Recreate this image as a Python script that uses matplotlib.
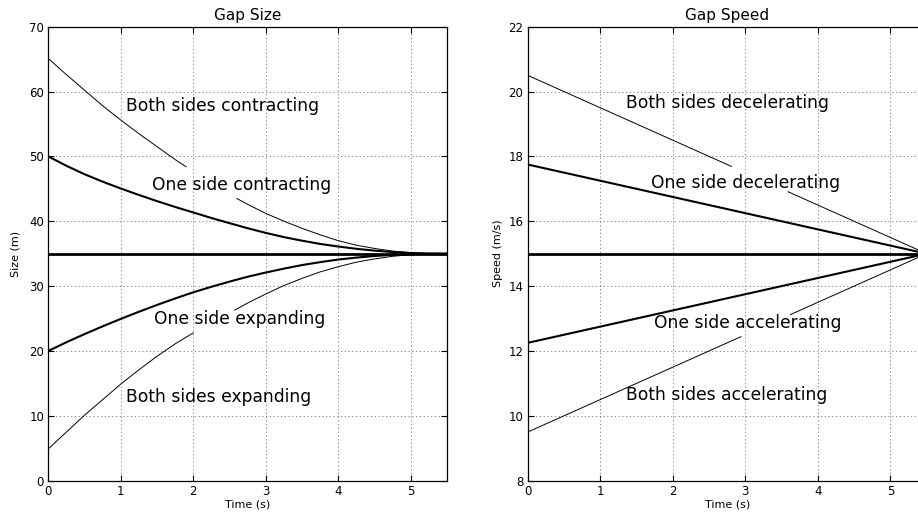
import numpy as np
import matplotlib
matplotlib.use('Agg')  # sin pantalla
import matplotlib.pyplot as plt

# --- Gap size (m) ---
size_time = [0, 0.25, 0.5, 0.75, 1, 1.25, 1.5, 1.75, 2, 2.25, 2.5, 2.75,
             3, 3.25, 3.5, 3.75, 4, 4.25, 4.5, 4.75, 5, 5.25, 5.5]
one_side_contracting = [50.0, 48.55, 47.25, 46.1, 45.05, 44.05, 43.1, 42.2, 41.35, 40.5, 39.7, 38.92,
                        38.2, 37.55, 37.0, 36.5, 36.1, 35.75, 35.47, 35.25, 35.1, 35.02, 35.0]
one_side_expanding = [20.0, 21.35, 22.6, 23.8, 24.95, 26.05, 27.1, 28.1, 29.05, 29.9, 30.7, 31.45,
                      32.1, 32.7, 33.25, 33.7, 34.1, 34.4, 34.65, 34.82, 34.93, 34.98, 35.0]

# thin curves have a break where the label sits (nan = hidden part)
both_contracting_time = [0, 0.25, 0.5, 0.75, 1, 1.25, 1.5, 1.75, 1.9, np.nan,
                         2.6, 2.75, 3, 3.25, 3.5, 3.75, 4, 4.25, 4.5, 4.75, 5, 5.25, 5.5]
both_contracting = [65.1, 62.6, 60.2, 57.8, 55.6, 53.5, 51.5, 49.5, 48.4, np.nan,
                    43.5, 42.6, 41.2, 40.0, 38.9, 37.9, 37.0, 36.3, 35.8, 35.4, 35.15, 35.03, 35.0]
both_expanding_time = [0, 0.25, 0.5, 0.75, 1, 1.25, 1.5, 1.75, 2.0, np.nan,
                       2.57, 2.75, 3, 3.25, 3.5, 3.75, 4, 4.25, 4.5, 4.75, 5, 5.25, 5.5]
both_expanding = [4.9, 7.5, 10.1, 12.5, 14.9, 17.1, 19.2, 21.1, 22.8, np.nan,
                  26.3, 27.4, 28.8, 30.1, 31.2, 32.2, 33.0, 33.7, 34.2, 34.6, 34.85, 34.97, 35.0]
nominal_size = 35.0

# --- Gap speed (m/s) ---
speed_time = [0, 5.5]
one_side_decel = [17.75, 15.0]
one_side_accel = [12.25, 15.0]
both_decel_time = [0, 2.81, np.nan, 3.59, 5.5]
both_decel = [20.5, 17.69, np.nan, 16.91, 15.0]
both_accel_time = [0, 2.94, np.nan, 3.62, 5.5]
both_accel = [9.5, 12.44, np.nan, 13.12, 15.0]
nominal_speed = 15.0

size_ticks = [0, 10, 20, 30, 40, 50, 60, 70]
speed_ticks = [8, 10, 12, 14, 16, 18, 20, 22]
time_ticks = [0, 1, 2, 3, 4, 5]

THICK = 1.5
THIN = 0.7

fig = plt.figure(figsize=(9.18, 5.14), dpi=100)
# el eje derecho se sale un poco de la figura, como en la original
ax1 = fig.add_axes([0.0526, 0.0648, 0.4346, 0.8833])
ax2 = fig.add_axes([0.5748, 0.0648, 0.4346, 0.8833])


def style_axes(ax, title, ylabel, yticks, labelpad):
    ax.set_xlim(0, 5.5)
    ax.set_ylim(yticks[0], yticks[-1])
    ax.set_xticks(time_ticks)
    ax.set_yticks(yticks)
    ax.grid(True, linestyle=(0, (1.5, 3)), color='0.45', linewidth=0.6)
    ax.tick_params(direction='in', top=True, right=True, length=4, width=0.8,
                   labelsize=8.5, pad=3)
    ax.set_title(title, fontsize=11, pad=5)
    ax.set_xlabel('Time (s)', fontsize=8, labelpad=1)
    ax.set_ylabel(ylabel, fontsize=8, labelpad=labelpad)
    for s in ax.spines.values():
        s.set_linewidth(0.9)


# Gap Size
ax1.plot(size_time, one_side_contracting, color='black', linewidth=THICK)
ax1.plot(size_time, one_side_expanding, color='black', linewidth=THICK)
ax1.axhline(nominal_size, color='black', linewidth=2.0)
ax1.plot(both_contracting_time, both_contracting, color='black', linewidth=THIN)
ax1.plot(both_expanding_time, both_expanding, color='black', linewidth=THIN)

ax1.text(1.07, 57.0, 'Both sides contracting', fontsize=12.3)
ax1.text(1.43, 44.8, 'One side contracting', fontsize=12.3)
ax1.text(1.46, 24.2, 'One side expanding', fontsize=12.3)
ax1.text(1.07, 12.2, 'Both sides expanding', fontsize=12.3)
style_axes(ax1, 'Gap Size', 'Size (m)', size_ticks, 6)

# Gap Speed
ax2.plot(speed_time, one_side_decel, color='black', linewidth=THICK)
ax2.plot(speed_time, one_side_accel, color='black', linewidth=THICK)
ax2.axhline(nominal_speed, color='black', linewidth=2.0)
ax2.plot(both_decel_time, both_decel, color='black', linewidth=THIN)
ax2.plot(both_accel_time, both_accel, color='black', linewidth=THIN)

ax2.text(1.35, 19.48, 'Both sides decelerating', fontsize=12.3)
ax2.text(1.70, 17.03, 'One side decelerating', fontsize=12.3)
ax2.text(1.74, 12.71, 'One side accelerating', fontsize=12.3)
ax2.text(1.35, 10.5, 'Both sides accelerating', fontsize=12.3)
style_axes(ax2, 'Gap Speed', 'Speed (m/s)', speed_ticks, 4)

fig.savefig('out.png', dpi=100)
plt.close(fig)
